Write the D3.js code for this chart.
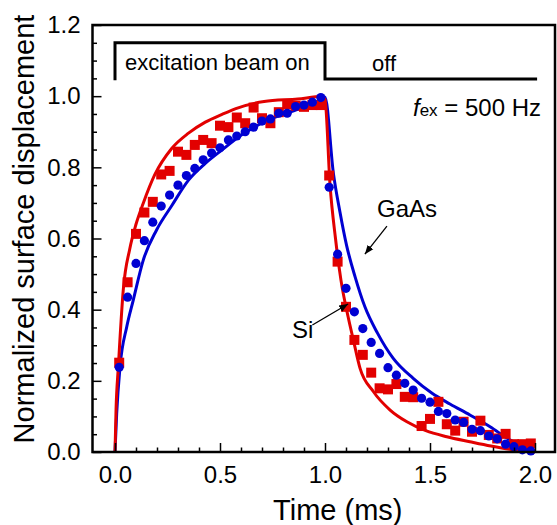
<!DOCTYPE html>
<html><head><meta charset="utf-8">
<script src="https://cdn.jsdelivr.net/npm/d3@7"></script>
<style>body{margin:0;background:#fff}svg{display:block}text{font-family:"Liberation Sans",Arial,sans-serif;fill:#000}</style>
</head><body><svg id="c" width="557" height="525"></svg>
<script>
// ---- data ----
const markerTimes = [0.02,0.06,0.10,0.14,0.18,0.22,0.26,0.30,0.34,0.38,0.42,0.46,0.50,0.54,0.58,0.62,0.66,0.70,0.74,0.78,0.82,0.86,0.90,0.94,0.98,
  1.02,1.06,1.10,1.14,1.18,1.22,1.26,1.30,1.34,1.38,1.42,1.46,1.50,1.54,1.58,1.62,1.66,1.70,1.74,1.78,1.82,1.86,1.90,1.94,1.98];
const siData = [0.251,0.477,0.613,0.673,0.703,0.780,0.790,0.844,0.835,0.863,0.877,0.868,0.917,0.913,0.940,0.924,0.968,0.938,0.924,0.955,0.977,0.973,0.970,0.975,0.975,
  0.777,0.535,0.408,0.315,0.273,0.223,0.179,0.176,0.191,0.155,0.154,0.073,0.093,0.141,0.078,0.060,0.085,0.057,0.088,0.048,0.038,0.051,0.022,0.022,0.024];
const gaasData = [0.238,0.435,0.530,0.594,0.646,0.691,0.722,0.750,0.777,0.797,0.821,0.840,0.855,0.877,0.888,0.900,0.913,0.930,0.936,0.952,0.952,0.971,0.975,0.983,0.996,
  0.744,0.556,0.460,0.394,0.347,0.308,0.277,0.237,0.216,0.193,0.174,0.151,0.140,0.114,0.108,0.090,0.083,0.064,0.060,0.045,0.037,0.022,0.015,0.006,0.003];
const siFitT = [0,0.005,0.016,0.04,0.07,0.10,0.135,0.19,0.27,0.35,0.43,0.51,0.59,0.71,0.87,0.985,1.0,1.024,1.05,1.076,1.11,1.135,1.167,1.23,1.31,1.39,1.48,1.58,1.69,1.79,1.88,1.95,2.0];
const siFitV = [0,0.12,0.24,0.46,0.57,0.64,0.70,0.78,0.853,0.896,0.927,0.949,0.968,0.985,0.992,0.999,0.99,0.75,0.60,0.483,0.38,0.315,0.235,0.17,0.118,0.085,0.06,0.043,0.029,0.017,0.008,0.003,0];
const gaasFitT = [0,0.008,0.024,0.056,0.087,0.135,0.198,0.27,0.35,0.43,0.51,0.60,0.73,0.86,0.985,1.0,1.04,1.071,1.103,1.143,1.19,1.25,1.325,1.42,1.51,1.595,1.69,1.786,1.88,1.96,2.0];
const gaasFitV = [0,0.108,0.24,0.352,0.427,0.54,0.624,0.692,0.764,0.811,0.849,0.89,0.933,0.961,0.99,0.998,0.783,0.675,0.58,0.493,0.408,0.334,0.263,0.207,0.165,0.135,0.104,0.071,0.034,0.01,0];
const xMajorTicks = [0,0.5,1.0,1.5,2.0];
const xTickLabels = ["0.0","0.5","1.0","1.5","2.0"];
const xMinorTicks = [0.1,0.2,0.3,0.4,0.6,0.7,0.8,0.9,1.1,1.2,1.3,1.4,1.6,1.7,1.8,1.9];
const yMajorTicks = [0,0.2,0.4,0.6,0.8,1.0,1.2];
const yTickLabels = ["0.0","0.2","0.4","0.6","0.8","1.0","1.2"];
const yMinorTicks = [0.05,0.1,0.15,0.25,0.3,0.35,0.45,0.5,0.55,0.65,0.7,0.75,0.85,0.9,0.95,1.05,1.1,1.15];
const beamT = [0,0,1.0,1.0,2.01];
const beamV = [1.045,1.15,1.15,1.048,1.048];

// ---- layout ----
const svg = d3.select("#c");
const L = 92.5, R = 555, T = 25, B = 452;
const x = d3.scaleLinear().domain([0,2]).range([115,535]);
const y = d3.scaleLinear().domain([0,1.2]).range([B,T]);
const RED = "#e20000", BLUE = "#0000d2";

const line = d3.line().x(d=>x(d[0])).y(d=>y(d[1])).curve(d3.curveMonotoneX);
const zip = (a,b)=>a.map((v,i)=>[v,b[i]]);

svg.append("path").datum(zip(gaasFitT,gaasFitV)).attr("d",line).attr("fill","none").attr("stroke",BLUE).attr("stroke-width",3);
svg.append("path").datum(zip(siFitT,siFitV)).attr("d",line).attr("fill","none").attr("stroke",RED).attr("stroke-width",3);

const sq = 10;
svg.append("g").selectAll("rect").data(zip(markerTimes,siData)).join("rect")
  .attr("x",d=>x(d[0])-sq/2).attr("y",d=>y(d[1])-sq/2).attr("width",sq).attr("height",sq).attr("fill",RED);
svg.append("g").selectAll("circle").data(zip(markerTimes,gaasData)).join("circle")
  .attr("cx",d=>x(d[0])).attr("cy",d=>y(d[1])).attr("r",4.6).attr("fill",BLUE);

// axes
function styleAxis(g){ g.select(".domain").remove(); g.selectAll("line").attr("stroke","#000").attr("stroke-width",1.5); g.selectAll("text").style("font-size","24px").attr("fill","#000"); }
svg.append("g").attr("transform",`translate(0,${B})`).call(d3.axisBottom(x).tickValues(xMinorTicks).tickSize(-4.5).tickFormat("")).call(styleAxis);
svg.append("g").attr("transform",`translate(0,${B})`).call(d3.axisBottom(x).tickValues(xMajorTicks).tickSize(-9).tickPadding(14).tickFormat((d,i)=>xTickLabels[i])).call(styleAxis);
svg.append("g").attr("transform",`translate(${L},0)`).call(d3.axisLeft(y).tickValues(yMinorTicks).tickSize(-4.5).tickFormat("")).call(styleAxis);
svg.append("g").attr("transform",`translate(${L},0)`).call(d3.axisLeft(y).tickValues(yMajorTicks).tickSize(-9).tickPadding(12).tickFormat((d,i)=>yTickLabels[i])).call(styleAxis);

svg.append("rect").attr("x",L).attr("y",T).attr("width",R-L).attr("height",B-T).attr("fill","none").attr("stroke","#000").attr("stroke-width",2.5);

// beam bracket
svg.append("path").datum(zip(beamT,beamV)).attr("d",d3.line().x(d=>x(d[0])).y(d=>y(d[1]))).attr("fill","none").attr("stroke","#000").attr("stroke-width",3);
svg.append("text").attr("x",125).attr("y",70).style("font-size","22px").text("excitation beam on");
svg.append("text").attr("x",372).attr("y",71).style("font-size","22px").text("off");

const fx = svg.append("text").attr("x",x(1.419)).attr("y",y(0.944)).style("font-size","24px");
fx.append("tspan").style("font-style","italic").text("f");
fx.append("tspan").style("font-size","17px").text("ex");
fx.append("tspan").text(" = 500 Hz");

// annotations
const defs = svg.append("defs");
defs.append("marker").attr("id","ah").attr("viewBox","0 0 10 10").attr("refX",10).attr("refY",5)
  .attr("markerWidth",9).attr("markerHeight",9).attr("markerUnits","userSpaceOnUse").attr("orient","auto")
  .append("path").attr("d","M0,1 L10,5 L0,9 Z").attr("fill","#000");
svg.append("text").attr("x",x(1.248)).attr("y",y(0.66)).style("font-size","24px").text("GaAs");
svg.append("line").attr("x1",x(1.295)).attr("y1",y(0.635)).attr("x2",x(1.19)).attr("y2",y(0.556)).attr("stroke","#000").attr("stroke-width",1.3).attr("marker-end","url(#ah)");
svg.append("text").attr("x",x(0.843)).attr("y",y(0.32)).style("font-size","24px").text("Si");
svg.append("line").attr("x1",x(0.94)).attr("y1",y(0.357)).attr("x2",x(1.11)).attr("y2",y(0.416)).attr("stroke","#000").attr("stroke-width",1.3).attr("marker-end","url(#ah)");

// axis titles
svg.append("text").attr("x",(L+R)/2+14).attr("y",520).attr("text-anchor","middle").style("font-size","29px").text("Time (ms)");
svg.append("text").attr("transform","translate(34,229) rotate(-90)").attr("text-anchor","middle").style("font-size","29px").text("Normalized surface displacement");
</script></body></html>
